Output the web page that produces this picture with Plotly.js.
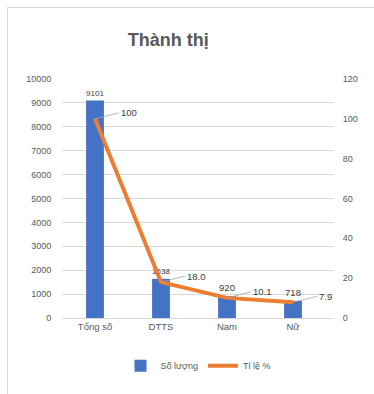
<!DOCTYPE html>
<html><head><meta charset="utf-8">
<script src="https://cdn.plot.ly/plotly-3.0.1.min.js"></script>
<style>
html,body{margin:0;padding:0;background:#fff;}
#frame{position:absolute;left:7px;top:7px;width:380px;height:400px;border:1px solid #d9d9d9;box-sizing:border-box;}
#chart{position:absolute;left:0;top:0;width:374px;height:394px;}
</style></head>
<body>
<div id="frame"></div>
<div id="chart"></div>
<script>
const categories = ["Tổng số", "DTTS", "Nam", "Nữ"];
const soLuong = [9101, 1638, 920, 718];
const tiLe = [100, 18.0, 10.1, 7.9];
const tiLeLabels = ["100", "18.0", "10.1", "7.9"];

const gray = "#595959";
const fam = "Liberation Sans, Arial, sans-serif";
const font = {family: fam, size: 9, color: gray};

const traces = [
  {type: "bar", x: categories, y: soLuong, name: "Số lượng",
   marker: {color: "#4472C4"}, width: 0.27,
   text: soLuong.map(String), textposition: "outside", cliponaxis: false,
   textfont: {family: fam, size: 9.5, color: "#404040"}},
  {type: "scatter", mode: "lines", x: categories, y: tiLe, yaxis: "y2", name: "Tỉ lệ %",
   line: {color: "#ED7D31", width: 4}}
];

const annotations = categories.map((c, i) => ({
  x: c, y: tiLe[i], xref: "x", yref: "y2", text: tiLeLabels[i],
  showarrow: true, arrowhead: 0, arrowwidth: 0.8, arrowcolor: "#a6a6a6",
  ax: 24, ay: -6, xanchor: "left", font: {family: fam, size: 9.5, color: "#404040"}
}));

const layout = {
  width: 374, height: 394,
  margin: {l: 62, r: 40, t: 79, b: 76},
  paper_bgcolor: "rgba(0,0,0,0)", plot_bgcolor: "rgba(0,0,0,0)",
  title: {text: "<b>Thành thị</b>", x: 0.45, xanchor: "center", y: 0.9, yanchor: "middle",
          font: {family: fam, size: 18, color: gray}},
  font: font,
  showlegend: true,
  legend: {orientation: "h", x: 0.5, xanchor: "center", y: -0.2, yanchor: "middle",
           font: {family: fam, size: 9, color: gray}},
  xaxis: {showgrid: false, zeroline: false, showline: true, linecolor: "#d9d9d9",
          tickfont: {size: 9.5, color: gray}, ticks: ""},
  yaxis: {range: [0, 10000], dtick: 1000, tickformat: "d", gridcolor: "#d9d9d9", zeroline: false,
          tickfont: {size: 9, color: gray}, ticklen: 8, ticks: "outside", tickcolor: "rgba(0,0,0,0)"},
  yaxis2: {range: [0, 120], dtick: 20, tickformat: "d", overlaying: "y", side: "right", showgrid: false, zeroline: false,
           tickfont: {size: 9, color: gray}, ticklen: 6, ticks: "outside", tickcolor: "rgba(0,0,0,0)"},
  annotations: annotations,
  bargap: 0.73
};

Plotly.newPlot("chart", traces, layout, {displayModeBar: false, staticPlot: true});
</script>
</body></html>
